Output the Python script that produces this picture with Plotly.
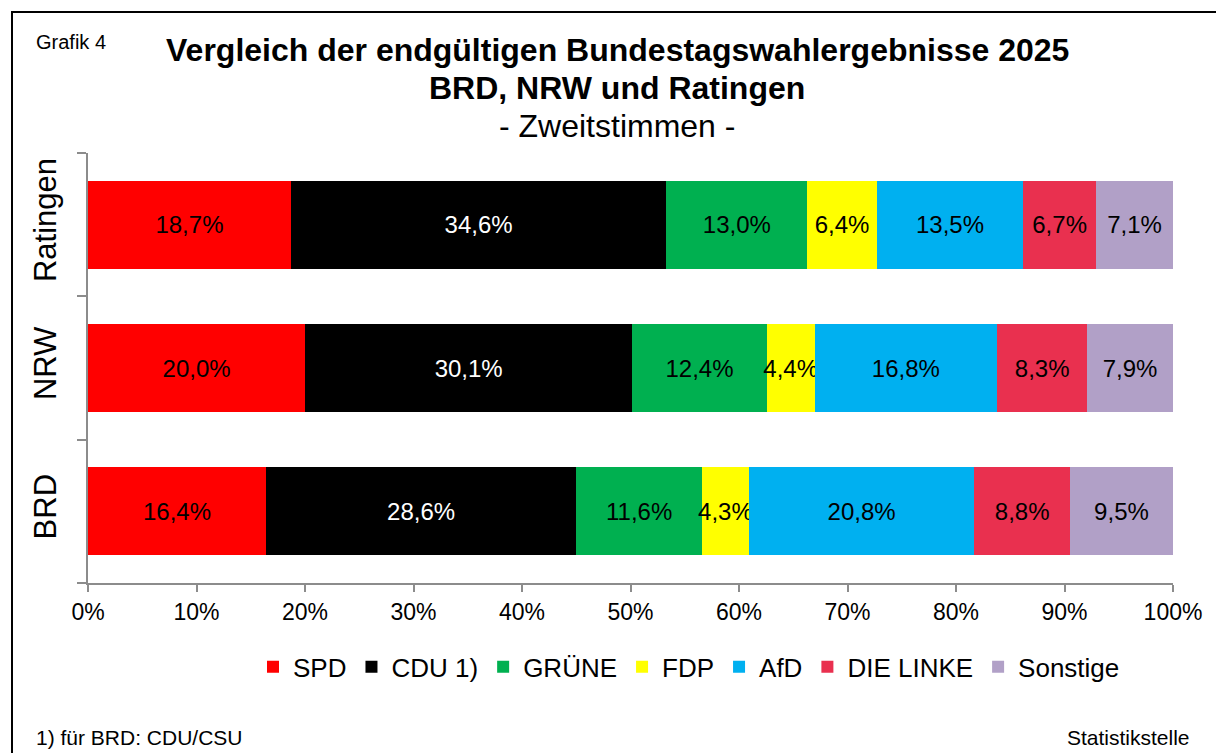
import plotly.graph_objects as go

regions = ["BRD", "NRW", "Ratingen"]
parties = ["SPD", "CDU 1)", "GRÜNE", "FDP", "AfD", "DIE LINKE", "Sonstige"]
spd = [16.4, 20.0, 18.7]
cdu = [28.6, 30.1, 34.6]
gruene = [11.6, 12.4, 13.0]
fdp = [4.3, 4.4, 6.4]
afd = [20.8, 16.8, 13.5]
linke = [8.8, 8.3, 6.7]
sonstige = [9.5, 7.9, 7.1]
x_ticks = list(range(0, 101, 10))
x_tick_labels = [f"{v}%" for v in x_ticks]

series = [spd, cdu, gruene, fdp, afd, linke, sonstige]
colors = ["#FF0000", "#000000", "#00B050", "#FFFF00", "#00B0F0", "#E9304F", "#B1A0C7"]
text_colors = ["black", "white", "black", "black", "black", "black", "black"]

FONT = "Liberation Sans, Arial, sans-serif"

fig = go.Figure()
for name, vals, col, tcol in zip(parties, series, colors, text_colors):
    fig.add_trace(go.Bar(
        y=regions, x=vals, name=name, orientation="h",
        marker=dict(color=col, line=dict(width=0)),
        text=[f"{v:.1f}%".replace(".", ",") for v in vals],
        textposition="inside", insidetextanchor="middle",
        constraintext="none", textangle=0,
        textfont=dict(color=tcol, size=24, family=FONT),
    ))

fig.update_layout(
    width=1216, height=753,
    barmode="stack", barnorm="percent", bargap=0.385,
    plot_bgcolor="white", paper_bgcolor="white",
    margin=dict(l=88, r=43, t=153, b=170),
    font=dict(family=FONT, color="black"),
    showlegend=True,
    legend=dict(orientation="h", x=(689 - 88) / 1085, xanchor="center", y=-0.195, yanchor="middle",
                font=dict(size=26, family=FONT), traceorder="normal", itemwidth=30),
    xaxis=dict(range=[0, 100], tickvals=x_ticks, ticktext=x_tick_labels,
               showgrid=False, zeroline=False, showline=True, linecolor="#8C8C8C", linewidth=2,
               ticks="outside", ticklen=7, tickcolor="#8C8C8C", tickwidth=2,
               tickfont=dict(size=23, family=FONT)),
    yaxis=dict(categoryorder="array", categoryarray=regions,
               showgrid=False, zeroline=False, showline=True, linecolor="#8C8C8C", linewidth=2,
               ticks="outside", ticklen=9, tickcolor="#8C8C8C", tickwidth=2, tickson="boundaries",
               tickangle=-90, ticklabelstandoff=18, tickfont=dict(size=31, family=FONT)),
    annotations=[
        dict(text="<b>Vergleich der endgültigen Bundestagswahlergebnisse 2025</b>", xref="paper", yref="paper",
             x=(617 - 88) / 1085, y=(583 - 50) / 430, xanchor="center", yanchor="middle", showarrow=False,
             font=dict(size=32, family=FONT)),
        dict(text="<b>BRD, NRW und Ratingen</b>", xref="paper", yref="paper",
             x=(617 - 88) / 1085, y=(583 - 88) / 430, xanchor="center", yanchor="middle", showarrow=False,
             font=dict(size=32, family=FONT)),
        dict(text="- Zweitstimmen -", xref="paper", yref="paper",
             x=(617 - 88) / 1085, y=(583 - 126) / 430, xanchor="center", yanchor="middle", showarrow=False,
             font=dict(size=32, family=FONT)),
        dict(text="Grafik 4", xref="paper", yref="paper",
             x=(34 - 88) / 1085, y=(583 - 42) / 430, xanchor="left", yanchor="middle", showarrow=False,
             font=dict(size=20, family=FONT)),
        dict(text="1) für BRD: CDU/CSU", xref="paper", yref="paper",
             x=(34 - 88) / 1085, y=(583 - 737) / 430, xanchor="left", yanchor="middle", showarrow=False,
             font=dict(size=21, family=FONT)),
        dict(text="Statistikstelle", xref="paper", yref="paper",
             x=(1192 - 88) / 1085, y=(583 - 737) / 430, xanchor="right", yanchor="middle", showarrow=False,
             font=dict(size=21, family=FONT)),
    ],
    shapes=[
        dict(type="rect", xref="paper", yref="paper",
             x0=(12 - 88) / 1085, x1=(1240 - 88) / 1085,
             y0=(583 - 780) / 430, y1=(583 - 12) / 430,
             line=dict(color="black", width=2), fillcolor="rgba(0,0,0,0)", layer="below"),
    ],
)

fig.write_html("out.html", config={"displayModeBar": False},
               post_script="document.body.style.margin='0';")
